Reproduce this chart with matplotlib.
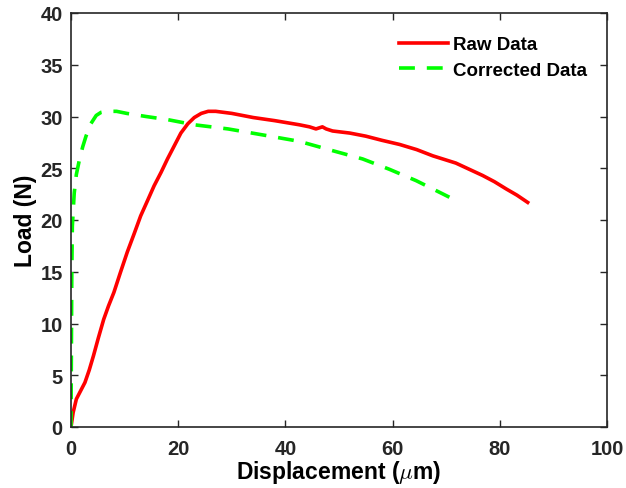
import numpy as np
from matplotlib import pyplot as plt

plt.rcParams['font.family'] = ['Liberation Sans', 'DejaVu Sans']
plt.rcParams['font.weight'] = 'bold'
plt.rcParams['mathtext.fontset'] = 'cm'

# raw load-displacement curve (um, N)
raw_x = [0, 0.4, 1.0, 1.8, 2.6, 3.4, 4.2, 5.1, 6.1, 7.0, 8.0, 9.2, 10.5, 11.8,
         13.0, 14.3, 15.5, 16.8, 18.0, 19.3, 20.5, 21.8, 23.0, 24.3, 25.6,
         27.0, 30.0, 34.0, 38.0, 42.6, 44.5, 45.7, 46.3, 46.9, 47.6, 48.8,
         52.0, 55.0, 58.0, 61.3, 64.5, 67.5, 71.8, 74.3, 76.8, 79.0, 81.2,
         83.2, 85.2]
raw_y = [0, 1.4, 2.7, 3.5, 4.3, 5.5, 6.9, 8.6, 10.4, 11.7, 13.0, 14.9, 16.9,
         18.7, 20.4, 21.9, 23.3, 24.6, 25.9, 27.2, 28.4, 29.3, 29.9, 30.3,
         30.5, 30.5, 30.3, 29.9, 29.6, 29.2, 29.0, 28.8, 28.9, 29.0, 28.8,
         28.6, 28.4, 28.1, 27.7, 27.3, 26.8, 26.2, 25.5, 24.9, 24.3, 23.7,
         23.0, 22.4, 21.7]

# corrected curve
cor_x = [0, 0.05, 0.1, 0.15, 0.25, 0.6, 1.0, 1.6, 2.2, 2.8, 3.7, 4.7, 5.6,
         6.6, 8.5, 10.4, 14.0, 18.0, 23.0, 29.3, 36.0, 42.6, 48.8, 54.4,
         59.4, 64.4, 67.5, 70.6]
cor_y = [0, 5.0, 10.0, 15.0, 19.4, 22.6, 24.4, 25.9, 27.1, 28.1, 29.3, 30.1,
         30.4, 30.5, 30.5, 30.3, 30.0, 29.7, 29.2, 28.8, 28.2, 27.6, 26.7,
         25.9, 24.9, 23.8, 23.0, 22.2]

fig = plt.figure(figsize=(6.26, 4.89), dpi=100)
ax = fig.add_axes([71 / 626, 1 - 428 / 489, 536 / 626, 414 / 489])

ax.plot(raw_x, raw_y, color='#ff0000', lw=2.6, label='Raw Data')
ax.plot(cor_x, cor_y, color='#00ff00', lw=2.6, ls=(0, (4.4, 3.3)), label='Corrected Data')

ax.set_xlim(0, 100)
ax.set_ylim(0, 40)
ax.set_xticks(np.arange(0, 101, 20))
ax.set_yticks(np.arange(0, 41, 5))
ax.tick_params(direction='in', length=5, width=1, top=True, right=True,
               labelsize=14.5, pad=6, colors='#262626')
ax.tick_params(axis='x', pad=9)
for sp in ax.spines.values():
    sp.set_linewidth(1.2)
    sp.set_color('#262626')

ax.set_xlabel(r'Displacement ($\mu$m)', fontsize=16.5, fontweight='bold', labelpad=0)
ax.set_ylabel('Load (N)', fontsize=16.5, fontweight='bold', labelpad=2)

ax.legend(loc='upper right', frameon=False, fontsize=13.5, handlelength=2.6,
          handletextpad=0.3, bbox_to_anchor=(0.995, 0.985), labelspacing=0.45)

fig.savefig('out.png', dpi=100)
